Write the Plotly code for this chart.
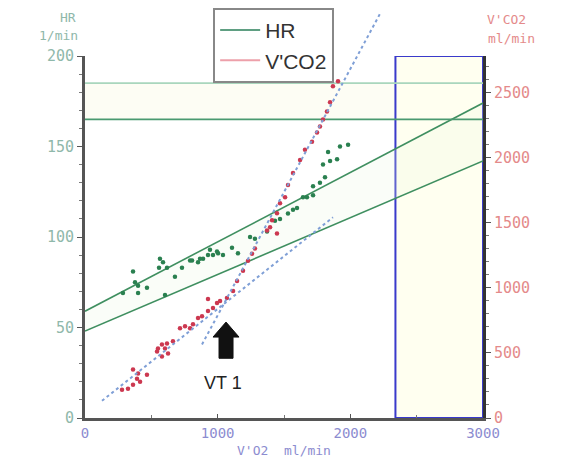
import plotly.graph_objects as go

# Heart rate samples against oxygen uptake (V'O2 ml/min, HR 1/min)
hr_vo2 = [362, 377, 400, 467, 286, 400, 603, 565, 588, 558, 618, 678, 731, 807, 852,
          890, 965, 942, 1003, 792, 867, 927, 995, 1040, 1108, 1153, 1244, 1281, 1372,
          1432, 1470, 1530, 1598, 1673, 1719, 1568, 1643, 1719, 1771, 1809, 1794, 1847,
          1832, 1900, 1922, 1983]
hr_values = [81, 75, 73, 72, 69, 69, 68, 88, 86, 83, 83, 78, 83, 87, 86,
             88, 90, 93, 91, 87, 88, 90, 92, 90, 94, 91, 100, 99, 103,
             109, 110, 113, 116, 122, 123, 115, 122, 128, 130, 133, 140, 142,
             147, 143, 150, 151]

# CO2 output samples against oxygen uptake (V'CO2 ml/min)
co2_vo2 = [279, 324, 362, 392, 362, 400, 415, 467, 543, 550, 580, 603, 580, 626, 618,
           663, 716, 754, 792, 814, 852, 882, 927, 965, 995, 927, 1018, 1070, 1116,
           1146, 1191, 1229, 1259, 1281, 1372, 1395, 1447, 1410, 1447, 1470, 1508,
           1530, 1568, 1621, 1658, 1711, 1749, 1771, 1794, 1824, 1847, 1869, 1907]
vco2_values = [217, 225, 256, 302, 372, 341, 279, 333, 511, 534, 565, 534, 472, 496, 573,
               589, 689, 705, 689, 720, 767, 782, 821, 844, 883, 914, 898, 922, 976,
               1053, 1131, 1208, 1262, 1301, 1440, 1464, 1417, 1518, 1572, 1649, 1696,
               1789, 1882, 1982, 2060, 2122, 2192, 2238, 2292, 2354, 2424, 2548, 2587]

# HR regression band and HR limits
fit_vo2 = [0, 3000]
hr_fit_upper = [59, 174]
hr_fit_lower = [48, 142]
hr_limit_low = 165
hr_limit_high = 185

# V-slope fit lines (V'O2, V'CO2)
slope1_vo2 = [128, 1869]
slope1_vco2 = [132, 1541]
slope2_vo2 = [882, 2224]
slope2_vco2 = [565, 3105]

vt1_vo2 = 1063
vo2_max_zone = [2340, 3000]

X_RANGE = [0, 3000]
HR_RANGE = [0, 200]
VCO2_RANGE = [0, 2780]

W, H = 571, 461
ML, MR, MT, MB = 85, 88, 56, 43
PW, PH = W - ML - MR, H - MT - MB

MONO = "DejaVu Sans Mono"
GREEN_TXT = "#8fb8aa"
RED_TXT = "#e48a8a"
BLUE_TXT = "#8c8cd0"

fig = go.Figure()

# legend entries
fig.add_trace(go.Scatter(x=[None], y=[None], mode="lines", name="HR",
                         line=dict(color="#5f9f82", width=2)))
fig.add_trace(go.Scatter(x=[None], y=[None], mode="lines", name="V'CO2",
                         line=dict(color="#eda0aa", width=2)))

# regression band (faint fill between the two HR lines)
fig.add_trace(go.Scatter(x=fit_vo2, y=hr_fit_lower, mode="lines",
                         line=dict(color="#3f8f60", width=1.6), showlegend=False,
                         hoverinfo="skip"))
fig.add_trace(go.Scatter(x=fit_vo2, y=hr_fit_upper, mode="lines",
                         line=dict(color="#3f8f60", width=1.6), fill="tonexty",
                         fillcolor="rgba(232,246,222,0.22)", showlegend=False,
                         hoverinfo="skip"))

# HR limits
fig.add_trace(go.Scatter(x=X_RANGE, y=[hr_limit_high] * 2, mode="lines",
                         line=dict(color="#a9d6bd", width=1.6), showlegend=False,
                         hoverinfo="skip"))
fig.add_trace(go.Scatter(x=X_RANGE, y=[hr_limit_low] * 2, mode="lines",
                         line=dict(color="#4a9a70", width=1.6), showlegend=False,
                         hoverinfo="skip"))

fig.add_trace(go.Scatter(x=hr_vo2, y=hr_values, mode="markers", name="HR",
                         marker=dict(color="#2a8050", size=4.5), showlegend=False))
fig.add_trace(go.Scatter(x=co2_vo2, y=vco2_values, mode="markers", name="V'CO2",
                         yaxis="y2", marker=dict(color="#cc3850", size=4.5),
                         showlegend=False))

shapes = []
# light zone between HR limits
shapes.append(dict(type="rect", xref="x", yref="y", x0=X_RANGE[0], x1=X_RANGE[1],
                   y0=hr_limit_low, y1=hr_limit_high, fillcolor="#fdfdf4",
                   line=dict(width=0), layer="below"))
# V'O2 max zone
shapes.append(dict(type="rect", xref="x", yref="y", x0=vo2_max_zone[0], x1=vo2_max_zone[1],
                   y0=HR_RANGE[0], y1=HR_RANGE[1], fillcolor="#fffff0",
                   line=dict(color="#3a3acb", width=2), layer="below"))

# V-slope lines: drawn in paper y so they may run above the plot area
for xs, vs in ((slope1_vo2, slope1_vco2), (slope2_vo2, slope2_vco2)):
    shapes.append(dict(type="line", xref="x", yref="paper",
                       x0=xs[0], x1=xs[1],
                       y0=vs[0] / VCO2_RANGE[1], y1=vs[1] / VCO2_RANGE[1],
                       line=dict(color="#7f9fd6", width=2, dash="dot")))

# VT1 arrow
px_x = (X_RANGE[1] - X_RANGE[0]) / PW
px_y = (HR_RANGE[1] - HR_RANGE[0]) / PH
tip_hr, base_hr = 53, 33
head_h, head_w, shaft_w = 15, 26, 14
hx, sx = head_w / 2 * px_x, shaft_w / 2 * px_x
neck = tip_hr - head_h * px_y
path = (f"M{vt1_vo2},{tip_hr} L{vt1_vo2 + hx},{neck} L{vt1_vo2 + sx},{neck} "
        f"L{vt1_vo2 + sx},{base_hr} L{vt1_vo2 - sx},{base_hr} L{vt1_vo2 - sx},{neck} "
        f"L{vt1_vo2 - hx},{neck} Z")
shapes.append(dict(type="path", xref="x", yref="y", path=path,
                   fillcolor="#111111", line=dict(color="#111111", width=1)))

annotations = [
    dict(text="VT 1", x=vt1_vo2 - 3 * px_x, y=19.5, xref="x", yref="y",
         showarrow=False, font=dict(family="Liberation Sans", size=18, color="#222")),
    dict(text="HR", x=-0.018, y=1.105, xref="paper", yref="paper", xanchor="right",
         yanchor="middle", showarrow=False,
         font=dict(family=MONO, size=13, color=GREEN_TXT)),
    dict(text="1/min", x=-0.012, y=1.058, xref="paper", yref="paper", xanchor="right",
         yanchor="middle", showarrow=False,
         font=dict(family=MONO, size=13, color=GREEN_TXT)),
    dict(text="V'CO2", x=1.005, y=1.1, xref="paper", yref="paper", xanchor="left",
         yanchor="middle", showarrow=False,
         font=dict(family=MONO, size=13, color=RED_TXT)),
    dict(text="ml/min", x=1.008, y=1.047, xref="paper", yref="paper", xanchor="left",
         yanchor="middle", showarrow=False,
         font=dict(family=MONO, size=13, color=RED_TXT)),
]

fig.update_layout(
    width=W, height=H,
    margin=dict(l=ML, r=MR, t=MT, b=MB, autoexpand=False),
    paper_bgcolor="white", plot_bgcolor="white",
    shapes=shapes, annotations=annotations,
    legend=dict(x=0.322, y=1.133, xanchor="left", yanchor="top",
                traceorder="normal", itemwidth=40,
                bgcolor="white", bordercolor="#888", borderwidth=2,
                font=dict(family="Liberation Sans", size=21, color="#333"),
                tracegroupgap=0),
    xaxis=dict(range=X_RANGE, tickvals=[0, 1000, 2000, 3000], showgrid=False,
               zeroline=False, showline=True, linecolor="#555", linewidth=3,
               ticks="inside", ticklen=4, tickcolor="#555", automargin=False,
               minor=dict(dtick=500, ticks="inside", ticklen=3, tickcolor="#777"),
               tickfont=dict(family=MONO, size=14, color=BLUE_TXT),
               title=dict(text="V'O2  ml/min", standoff=7,
                          font=dict(family=MONO, size=13, color=BLUE_TXT))),
    yaxis=dict(range=HR_RANGE, dtick=50, showgrid=False, zeroline=False,
               showline=True, linecolor="#555", linewidth=3, automargin=False,
               ticks="outside", ticklen=5, tickcolor="#555",
               minor=dict(dtick=10, ticks="outside", ticklen=3, tickcolor="#777"),
               tickfont=dict(family=MONO, size=15, color=GREEN_TXT)),
    yaxis2=dict(range=VCO2_RANGE, overlaying="y", side="right",
                tickvals=[0, 500, 1000, 1500, 2000, 2500], showgrid=False,
                zeroline=False, showline=True, linecolor="#333", linewidth=3,
                automargin=False,
                ticks="outside", ticklen=5, tickcolor="#555",
                minor=dict(dtick=100, ticks="outside", ticklen=3, tickcolor="#777"),
                tickfont=dict(family=MONO, size=15, color=RED_TXT)),
)

fig.write_html("out.html")
